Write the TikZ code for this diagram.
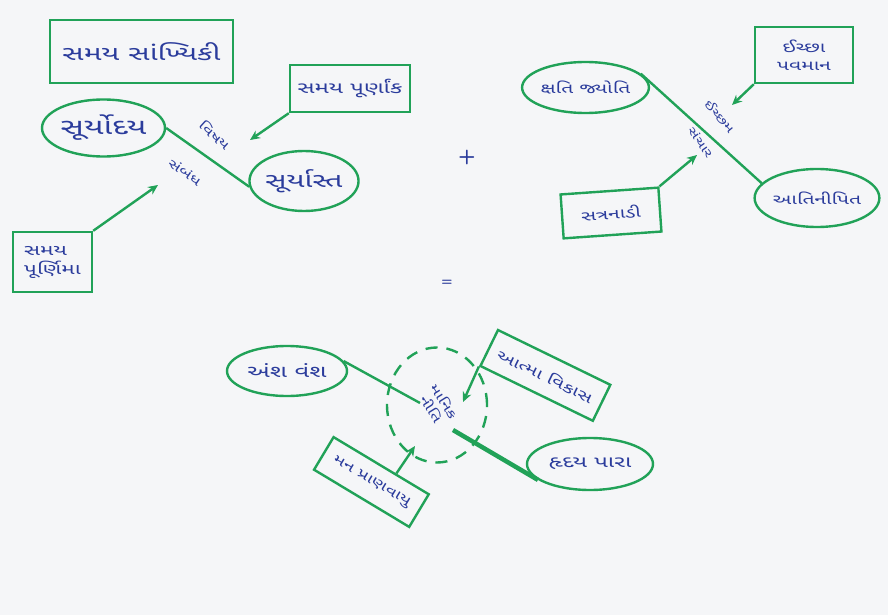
\documentclass[tikz,border=0pt]{standalone}
\usepackage{fontspec}
\newfontfamily\guj[Script=Gujarati, FakeStretch=1.5]{Noto Sans Gujarati UI}
\usetikzlibrary{arrows.meta,shapes.geometric,calc}
\definecolor{pen}{HTML}{21A258}
\definecolor{ink}{HTML}{2B3C9C}
\definecolor{paper}{HTML}{F5F6F8}

\tikzset{
  gtext/.style={font=\guj\fontsize{#1}{#1}\selectfont, text=ink},
  bubble/.style={ellipse, draw=pen, line width=2.4pt, inner sep=0pt},
  card/.style={rectangle, draw=pen, line width=2.4pt, inner sep=2pt, align=center},
  link/.style={draw=pen, line width=2.4pt},
  thicklink/.style={draw=pen, line width=4.5pt},
  pointer/.style={draw=pen, line width=2.4pt, -{Stealth[length=10pt,width=9pt]}},
  tag/.style={gtext=#1, inner sep=0pt}
}

\begin{document}
\begin{tikzpicture}[x=1pt,y=-1pt]
  % paper
  \fill[paper] (0,0) rectangle (888,615);
  \useasboundingbox (0,0) rectangle (888,615);

  % ---------- time statistics ----------
  \node[card, gtext=20, minimum width=183, minimum height=63] (title) at (141.5,51.5) {સમય સાંખ્યિકી};

  \node[bubble, gtext=22, minimum width=123, minimum height=57] (sunrise) at (103.5,128) {સૂર્યોદય};
  \node[bubble, gtext=20, minimum width=108, minimum height=60] (sunset) at (304,181) {સૂર્યાસ્ત};
  \draw[link] (sunrise.east) -- (sunset.186);
  \node[tag=12, rotate=-42] (lbl1) at (215,135) {વિષય};
  \node[tag=12, rotate=-35] (lbl2) at (185,172) {સંબંધ};

  \node[card, gtext=16, minimum width=120, minimum height=47] (integer) at (350,88.5) {સમય પૂર્ણાંક};
  \coordinate (tipA) at (250,140);
  \draw[pointer] (integer.south west) -- (tipA);

  \node[card, gtext=15, minimum width=79, minimum height=60, align=left] (fullmoon) at (52.5,262) {સમય\\[4pt]પૂર્ણિમા};
  \coordinate (tipB) at (158,185);
  \draw[pointer] (fullmoon.north east) -- (tipB);

  \node[font=\sffamily\bfseries\fontsize{20}{22}\selectfont, text=ink] (plus) at (467,157) {+};

  % ---------- light and fall ----------
  \node[bubble, gtext=14, minimum width=125, minimum height=51] (jyoti) at (585.5,87.5) {ક્ષતિ જ્યોતિ};
  \node[bubble, gtext=14, minimum width=114, minimum height=58] (nipat) at (817,198) {આતિનીપિત};
  \draw[link] (jyoti.14) -- (nipat.165);
  \node[tag=11, rotate=-50] (lbl3) at (720,116) {ઈચ્છમ};
  \node[tag=11, rotate=-55] (lbl4) at (701,142) {સંચાર};

  \node[card, gtext=14, minimum width=98, minimum height=56] (wish) at (804,55) {ઈચ્છા\\[4pt]પવમાન};
  \coordinate (tipC) at (732,105);
  \draw[pointer] (wish.south west) -- (tipC);

  \node[card, gtext=14, minimum width=98, minimum height=44, rotate=4] (nadi) at (611,213) {સત્રનાડી};
  \coordinate (tipD) at (697,155);
  \draw[pointer] (nadi.north east) -- (tipD);

  \node[font=\sffamily\bfseries\fontsize{13}{14}\selectfont, text=ink] (equals) at (447,283) {=};

  % ---------- result ----------
  \node[ellipse, draw=pen, line width=2.4pt, dash pattern=on 12pt off 9pt, minimum width=100, minimum height=115, inner sep=0pt] (core) at (437,405) {};
  \node[gtext=12, rotate=-58, align=center] (coretext) at (438,405) {માનિક\\[3pt]નીતિ};

  \node[bubble, gtext=17, minimum width=120, minimum height=50] (vansh) at (287,371) {અંશ વંશ};
  \coordinate (inA) at (420,403);
  \draw[link] (vansh.10) -- (inA);

  \node[bubble, gtext=16, minimum width=126, minimum height=52] (heart) at (590,464) {હૃદય પારા};
  \coordinate (inB) at (453,430);
  \draw[thicklink] (inB) -- (heart.197);

  \node[card, gtext=14, minimum width=125, minimum height=40, rotate=-26] (atma) at (545.4,375.4) {આત્મા વિકાસ};
  \coordinate (tipE) at (463,402);
  \draw[pointer] (atma.south west) -- (tipE);

  \node[card, gtext=13, minimum width=111, minimum height=38, rotate=-31] (prana) at (371.4,482) {મન પ્રાણવાયુ};
  \coordinate (tipF) at (415,446);
  \draw[pointer] ($(prana.north)!0.3!(prana.north east)$) -- (tipF);
\end{tikzpicture}
\end{document}
